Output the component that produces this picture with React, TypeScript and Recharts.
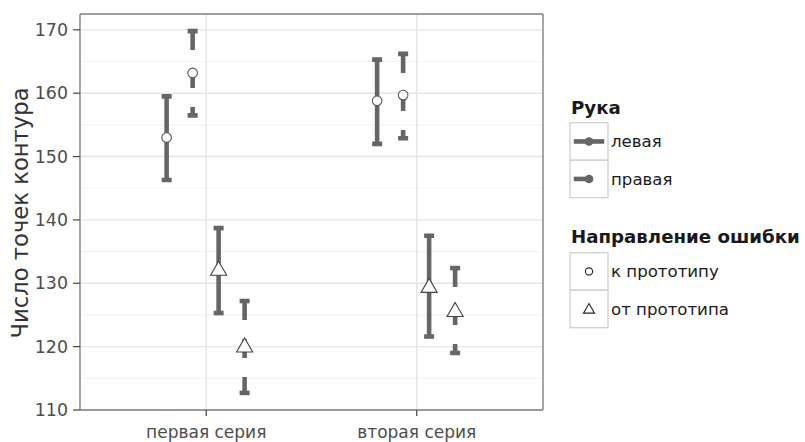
import React from 'react';
import { ComposedChart, Bar, XAxis, YAxis, CartesianGrid } from 'recharts';

const categories = ['первая серия', 'вторая серия'];

// Рука: левая / правая; Направление ошибки: к прототипу / от прототипа
const leftToMean = [153.0, 158.8];
const leftToLow = [146.3, 152.0];
const leftToHigh = [159.5, 165.3];

const rightToMean = [163.2, 159.7];
const rightToLow = [156.5, 152.9];
const rightToHigh = [169.8, 166.2];

const leftFromMean = [132.0, 129.3];
const leftFromLow = [125.3, 121.6];
const leftFromHigh = [138.7, 137.5];

const rightFromMean = [119.9, 125.5];
const rightFromLow = [112.7, 119.0];
const rightFromHigh = [127.2, 132.4];

const yTicks = [110, 120, 130, 140, 150, 160, 170];
const yMinor = [115, 125, 135, 145, 155, 165];
const yDomain = [110, 172.5];

const yTitle = 'Число точек контура';
const handTitle = 'Рука';
const handLabels = ['левая', 'правая'];
const dirTitle = 'Направление ошибки';
const dirLabels = ['к прототипу', 'от прототипа'];

const data = categories.map((cat, i) => ({
  cat,
  lt: [leftToLow[i], leftToHigh[i]],
  ltM: leftToMean[i],
  rt: [rightToLow[i], rightToHigh[i]],
  rtM: rightToMean[i],
  lf: [leftFromLow[i], leftFromHigh[i]],
  lfM: leftFromMean[i],
  rf: [rightFromLow[i], rightFromHigh[i]],
  rfM: rightFromMean[i],
}));

const series = [
  { key: 'lt', dashed: false, shape: 'circle' },
  { key: 'rt', dashed: true, shape: 'circle' },
  { key: 'lf', dashed: false, shape: 'triangle' },
  { key: 'rf', dashed: true, shape: 'triangle' },
];

const BAR = '#666666';
const BORDER = '#7f7f7f';
const FONT = '"DejaVu Sans", Verdana, sans-serif';
const LW = 4.6;
const DASH = '19 19';

function trianglePoints(cx: number, cy: number, s: number) {
  const r = 1.5551 * s;
  const h = 1.3468 * s;
  const yc = 0.7776 * s;
  return `${cx},${cy - r} ${cx + h},${cy + yc} ${cx - h},${cy + yc}`;
}

function ErrShape(props: any) {
  const { x, y, width, height, payload, spec } = props;
  if (x == null || y == null) return null;
  const xc = x + width / 2;
  const top = Math.min(y, y + height);
  const bot = Math.max(y, y + height);
  const [lo, hi] = payload[spec.key];
  const mean = payload[spec.key + 'M'];
  const ym = top + ((hi - mean) / (hi - lo)) * (bot - top);
  const half = 5;
  const dash = spec.dashed ? DASH : undefined;
  const common = { stroke: BAR, strokeWidth: LW, strokeDasharray: dash, fill: 'none' };
  return (
    <g>
      <line x1={xc - half} y1={top} x2={xc + half} y2={top} {...common} />
      <line x1={xc} y1={top} x2={xc} y2={bot} {...common} />
      <line x1={xc - half} y1={bot} x2={xc + half} y2={bot} {...common} />
      {spec.shape === 'circle' ? (
        <circle cx={xc} cy={ym} r={4.8} fill="#ffffff" stroke="#555555" strokeWidth={1.1} />
      ) : (
        <polygon points={trianglePoints(xc, ym, 6)} fill="#ffffff" stroke="#444444" strokeWidth={1.1} />
      )}
    </g>
  );
}

function YTitle(props: any) {
  const vb = props.viewBox || { x: 0, y: 14, width: 80, height: 396 };
  const cx = 28;
  const cy = vb.y + vb.height / 2 + 1;
  return (
    <text
      x={cx}
      y={cy}
      transform={`rotate(-90, ${cx}, ${cy})`}
      textAnchor="middle"
      fontFamily={FONT}
      fontSize={22.7}
      fill="#333333"
    >
      {yTitle}
    </text>
  );
}

function LegendOverlay() {
  const keyX = 570;
  const keyW = 38;
  const keyH = 37.5;
  const handTop = 122.7;
  const dirTop = 252.7;
  const textX = 611;
  return (
    <svg
      width={805}
      height={442}
      style={{ position: 'absolute', left: 0, top: 0, pointerEvents: 'none' }}
      fontFamily={FONT}
    >
      <text x={571} y={113.5} fontSize={18.2} fontWeight="bold" fill="#1a1a1a">
        {handTitle}
      </text>
      {handLabels.map((lab, i) => {
        const top = handTop + i * keyH;
        const cy = top + keyH / 2;
        return (
          <g key={lab}>
            <rect x={keyX} y={top} width={keyW} height={keyH} fill="#ffffff" stroke="#cccccc" strokeWidth={1.2} />
            <line
              x1={keyX + 3.8}
              y1={cy}
              x2={keyX + keyW - 3.8}
              y2={cy}
              stroke={BAR}
              strokeWidth={LW}
              strokeDasharray={i === 1 ? DASH : undefined}
            />
            <circle cx={keyX + keyW / 2} cy={cy} r={4.3} fill={BAR} />
            <text x={textX} y={cy} dy="0.35em" fontSize={16.6} fill="#1a1a1a">
              {lab}
            </text>
          </g>
        );
      })}
      <text x={571} y={243.3} fontSize={18.2} fontWeight="bold" fill="#1a1a1a">
        {dirTitle}
      </text>
      {dirLabels.map((lab, i) => {
        const top = dirTop + i * keyH;
        const cy = top + keyH / 2;
        const cx = keyX + keyW / 2;
        return (
          <g key={lab}>
            <rect x={keyX} y={top} width={keyW} height={keyH} fill="#ffffff" stroke="#cccccc" strokeWidth={1.2} />
            {i === 0 ? (
              <circle cx={cx} cy={cy} r={3.6} fill="#ffffff" stroke="#222222" strokeWidth={1.1} />
            ) : (
              <polygon points={trianglePoints(cx, cy + 1, 4.1)} fill="#ffffff" stroke="#222222" strokeWidth={1.1} />
            )}
            <text x={textX} y={cy} dy="0.35em" fontSize={16.6} fill="#1a1a1a">
              {lab}
            </text>
          </g>
        );
      })}
    </svg>
  );
}

export default function App() {
  return (
    <div style={{ position: 'absolute', left: 0, top: 0, width: 805, height: 442, background: '#ffffff' }}>
      <ComposedChart
        width={805}
        height={442}
        data={data}
        margin={{ top: 13, right: 261, bottom: 0, left: 0 }}
        barCategoryGap="25%"
        barGap={0}
      >
        <CartesianGrid horizontalValues={yMinor} vertical={false} stroke="#f3f3f3" strokeWidth={1.2} />
        <CartesianGrid horizontalValues={yTicks} stroke="#e5e5e5" strokeWidth={1.4} />
        <XAxis
          dataKey="cat"
          height={32}
          padding={{ left: 21, right: 21 }}
          tickSize={6}
          tickMargin={10}
          axisLine={{ stroke: BORDER, strokeWidth: 1.3 }}
          tickLine={{ stroke: '#444444', strokeWidth: 1.2 }}
          tick={{ fill: '#4d4d4d', fontSize: 17, fontFamily: FONT }}
        />
        <XAxis
          xAxisId="top"
          orientation="top"
          dataKey="cat"
          height={1}
          tick={false}
          tickLine={false}
          axisLine={{ stroke: BORDER, strokeWidth: 1.3 }}
        />
        <YAxis
          type="number"
          domain={yDomain}
          ticks={yTicks}
          allowDataOverflow
          width={80}
          tickSize={7}
          tickMargin={5}
          axisLine={{ stroke: BORDER, strokeWidth: 1.3 }}
          tickLine={{ stroke: '#444444', strokeWidth: 1.2 }}
          tick={{ fill: '#4d4d4d', fontSize: 17.4, fontFamily: FONT }}
          label={{ content: (p: any) => <YTitle {...p} /> }}
        />
        <YAxis
          yAxisId="r"
          orientation="right"
          width={1}
          tick={false}
          tickLine={false}
          axisLine={{ stroke: BORDER, strokeWidth: 1.3 }}
        />
        {series.map((s) => (
          <Bar
            key={s.key}
            dataKey={s.key}
            isAnimationActive={false}
            shape={(p: any) => <ErrShape {...p} spec={s} />}
          />
        ))}
      </ComposedChart>
      <LegendOverlay />
    </div>
  );
}
